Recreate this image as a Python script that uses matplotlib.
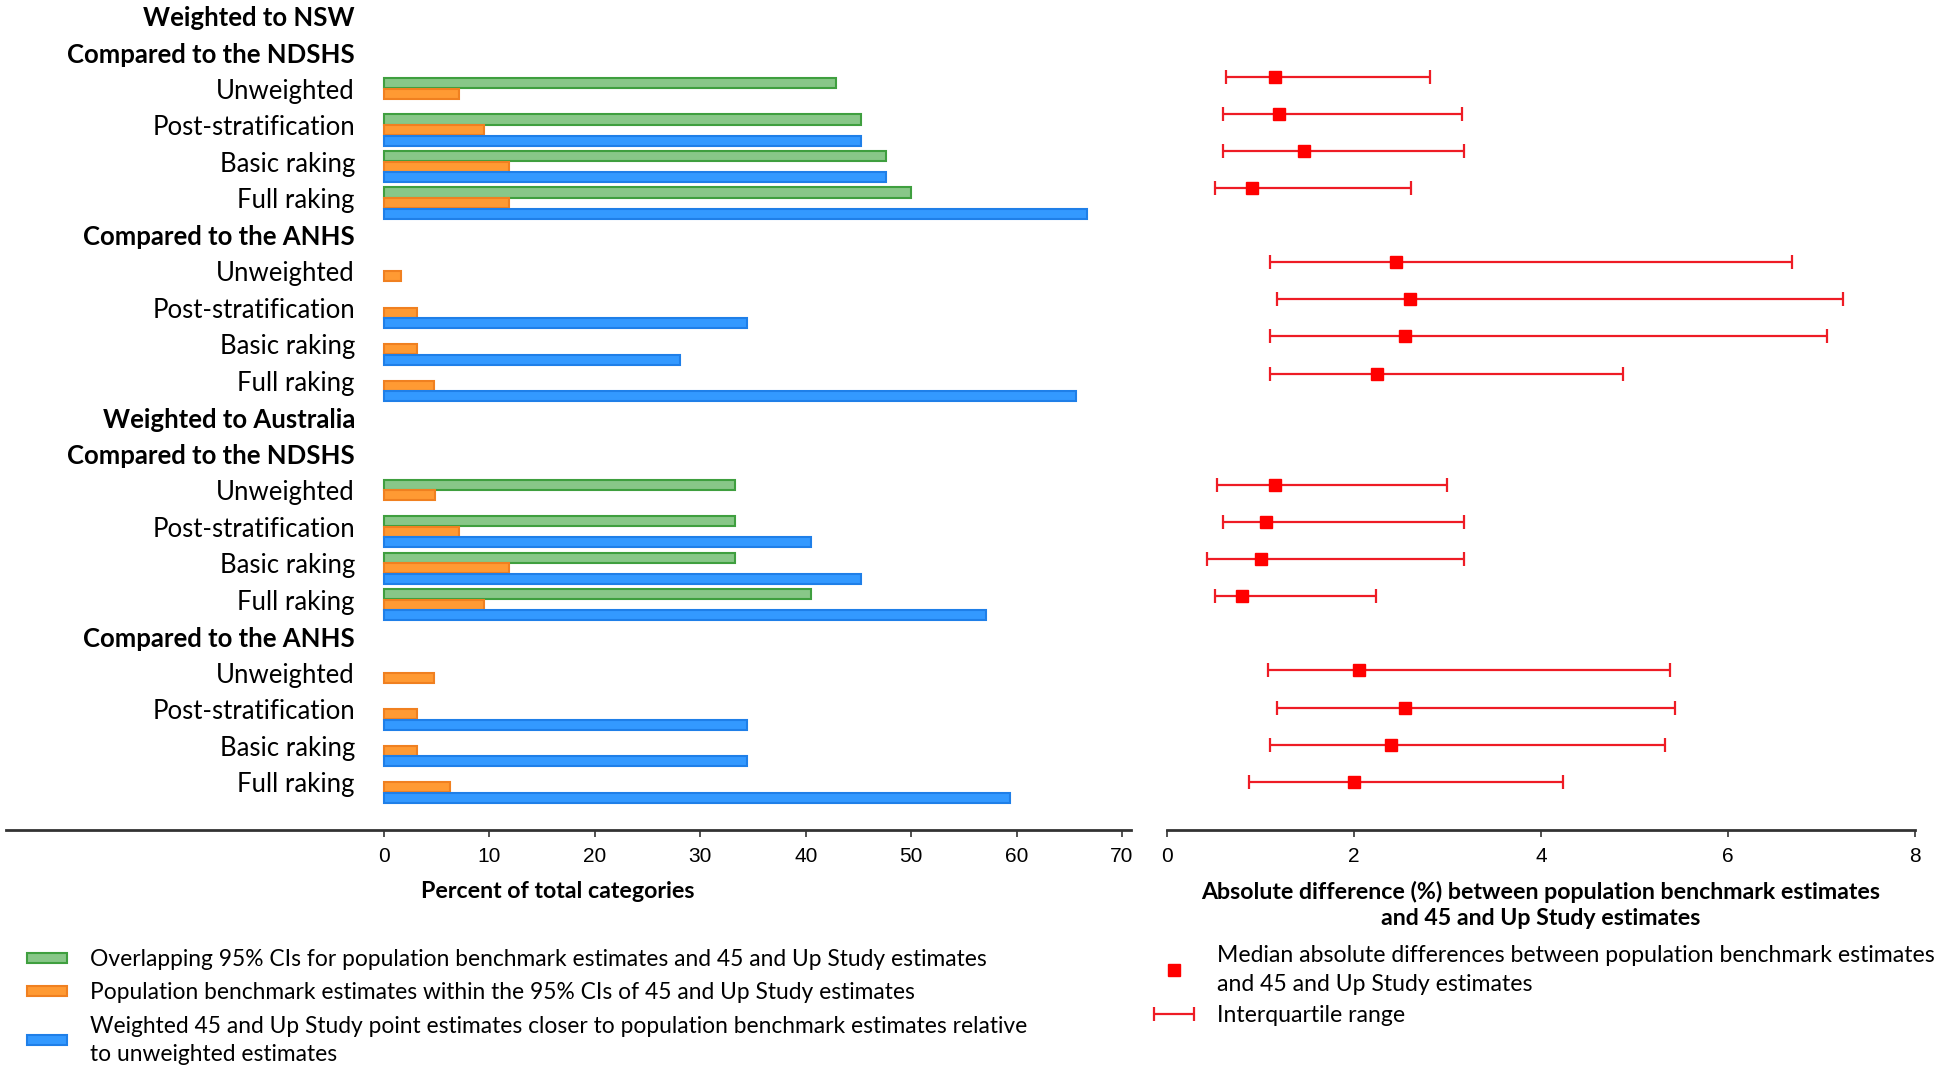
import numpy as np
import matplotlib
matplotlib.use('Agg')
import matplotlib.pyplot as plt
from matplotlib.container import ErrorbarContainer
from matplotlib.legend_handler import HandlerErrorbar

plt.rcParams['font.family'] = ['Lato', 'DejaVu Sans']
plt.rcParams['axes.unicode_minus'] = False

NA = np.nan

# ---- data -------------------------------------------------------------
row_labels = [
    'Weighted to NSW', 'Compared to the NDSHS',
    'Unweighted', 'Post-stratification', 'Basic raking', 'Full raking',
    'Compared to the ANHS',
    'Unweighted', 'Post-stratification', 'Basic raking', 'Full raking',
    'Weighted to Australia', 'Compared to the NDSHS',
    'Unweighted', 'Post-stratification', 'Basic raking', 'Full raking',
    'Compared to the ANHS',
    'Unweighted', 'Post-stratification', 'Basic raking', 'Full raking',
]
heading_rows = [0, 1, 6, 11, 12, 17]

# percent of total categories (NA = heading row / not applicable)
overlap_ci = [NA, NA, 42.9, 45.2, 47.6, 50.0, NA, NA, NA, NA, NA,
              NA, NA, 33.3, 33.3, 33.3, 40.5, NA, NA, NA, NA, NA]
within_ci = [NA, NA, 7.1, 9.5, 11.9, 11.9, NA, 1.6, 3.1, 3.1, 4.7,
             NA, NA, 4.8, 7.1, 11.9, 9.5, NA, 4.7, 3.1, 3.1, 6.3]
closer = [NA, NA, NA, 45.2, 47.6, 66.7, NA, NA, 34.4, 28.1, 65.6,
          NA, NA, NA, 40.5, 45.2, 57.1, NA, NA, 34.4, 34.4, 59.4]

# absolute difference (%) median and interquartile range
median_diff = [NA, NA, 1.15, 1.20, 1.46, 0.91, NA, 2.45, 2.60, 2.55, 2.25,
               NA, NA, 1.15, 1.06, 1.01, 0.80, NA, 2.05, 2.55, 2.40, 2.00]
q1_diff = [NA, NA, 0.63, 0.60, 0.60, 0.51, NA, 1.10, 1.18, 1.10, 1.10,
           NA, NA, 0.53, 0.60, 0.43, 0.51, NA, 1.08, 1.18, 1.10, 0.88]
q3_diff = [NA, NA, 2.81, 3.16, 3.18, 2.61, NA, 6.68, 7.23, 7.06, 4.88,
           NA, NA, 2.99, 3.18, 3.18, 2.23, NA, 5.38, 5.43, 5.33, 4.23]

series_labels = [
    'Overlapping 95% CIs for population benchmark estimates and 45 and Up Study estimates',
    'Population benchmark estimates within the 95% CIs of 45 and Up Study estimates',
    'Weighted 45 and Up Study point estimates closer to population benchmark estimates relative\nto unweighted estimates',
]
diff_labels = [
    'Median absolute differences between population benchmark estimates\nand 45 and Up Study estimates',
    'Interquartile range',
]
left_ticks = [0, 10, 20, 30, 40, 50, 60, 70]
right_ticks = [0, 2, 4, 6, 8]

# ---- figure -----------------------------------------------------------
W, H = 1944, 1068
fig = plt.figure(figsize=(W / 100, H / 100), dpi=100)
axis_y = 1 - 830 / H
ax = fig.add_axes([6 / W, axis_y, (1131 - 6) / W, 1 - axis_y])
ax2 = fig.add_axes([1167 / W, axis_y, (1915 - 1167) / W, 1 - axis_y])

rows = np.arange(len(row_labels))
bar_h = 0.28
b1 = ax.barh(rows - 0.19, overlap_ci, height=bar_h, color='#88c788',
             edgecolor='#3f9f3f', linewidth=1.5)
b2 = ax.barh(rows + 0.10, within_ci, height=bar_h, color='#ff9a33',
             edgecolor='#f08020', linewidth=1.5)
b3 = ax.barh(rows + 0.39, closer, height=bar_h, color='#3399ff',
             edgecolor='#1f7fe8', linewidth=1.5)

for r, lab in enumerate(row_labels):
    bold = r in heading_rows
    ax.text(-2.75, r + 0.03, lab, ha='right', va='center', fontsize=18.5,
            fontweight='bold' if bold else 'normal', color='black')

ax.set_xlim(-35.85, 70.85)
ax.set_ylim(22.27, -0.466)
ax.set_xticks(left_ticks)
ax.set_yticks([])
ax.set_xlabel('Percent of total categories', fontsize=16.7, fontweight='bold')
ax.xaxis.set_label_coords(0.49, -0.061)

med = np.array(median_diff)
lo = med - np.array(q1_diff)
hi = np.array(q3_diff) - med
eb = ax2.errorbar(median_diff, rows, xerr=[lo, hi], fmt='none',
                  ecolor='#ee1c25', elinewidth=1.6, capsize=5, capthick=1.6)
mk, = ax2.plot(median_diff, rows, linestyle='none', marker='s',
               markersize=8, color='#ff0000')
ax2.set_xlim(0, 8)
ax2.set_ylim(22.30, -0.067)
ax2.set_xticks(right_ticks)
ax2.set_yticks([])
ax2.set_xlabel('Absolute difference (%) between population benchmark estimates\n'
               'and 45 and Up Study estimates', fontsize=16.7, fontweight='bold',
               linespacing=1.3)
ax2.xaxis.set_label_coords(0.5, -0.061)
ax2.xaxis.label.set_va('top')
ax.xaxis.label.set_va('top')

for a in (ax, ax2):
    for s in ('top', 'left', 'right'):
        a.spines[s].set_visible(False)
    a.spines['bottom'].set_linewidth(2)
    a.spines['bottom'].set_color('#333333')
    a.tick_params(axis='x', direction='out', length=5, width=1.2,
                  color='#333333', labelsize=15, pad=7)
    for t in a.get_xticklabels():
        t.set_fontfamily(['Liberation Sans', 'DejaVu Sans'])

leg1 = fig.legend([b1, b2, b3], series_labels, loc='upper left',
                  bbox_to_anchor=(27 / W, 1 - 949 / H), frameon=False,
                  fontsize=16.4, handlelength=1.76, handleheight=0.3,
                  handletextpad=1.0, labelspacing=0.54, borderaxespad=0,
                  borderpad=0)
for t in leg1.get_texts():
    t.set_linespacing(1.41)

leg2 = fig.legend([mk, eb], diff_labels, loc='upper left',
                  bbox_to_anchor=(1154 / W, 1 - 945 / H), frameon=False,
                  fontsize=16.6, handlelength=1.73, handletextpad=1.0,
                  labelspacing=0.42, borderaxespad=0, borderpad=0,
                  handler_map={ErrorbarContainer: HandlerErrorbar(xerr_size=0.86)})
for t in leg2.get_texts():
    t.set_linespacing(1.47)

fig.savefig('out.png', dpi=100)
